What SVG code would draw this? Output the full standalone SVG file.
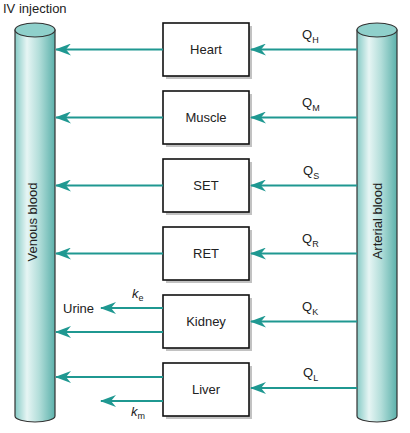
<svg xmlns="http://www.w3.org/2000/svg" width="410" height="433" viewBox="0 0 410 433">
<defs>
<linearGradient id="cyl" x1="0" y1="0" x2="1" y2="0">
<stop offset="0" stop-color="#86cbc6"/>
<stop offset="0.3" stop-color="#e6f5f4"/>
<stop offset="0.6" stop-color="#b3deda"/>
<stop offset="1" stop-color="#5cb1ab"/>
</linearGradient>
<marker id="ah" viewBox="0 0 16 12" refX="15" refY="6" markerWidth="16" markerHeight="12" markerUnits="userSpaceOnUse" orient="auto">
<path d="M0,0 L16,6 L0,12 L5,6 Z" fill="#1f9891"/>
</marker>
</defs>
<style>
text{font-family:"Liberation Sans","DejaVu Sans",sans-serif;font-size:13px;fill:#222}
.box{fill:#fff;stroke:#111;stroke-width:1.6}
.sh{fill:#c2c2c2}
.lbl{text-anchor:middle}
.cb{fill:url(#cyl);stroke:#333;stroke-width:1.2}
.ct{fill:#8fd0cb;stroke:#333;stroke-width:1.2}
.ar{stroke:#1f9891;stroke-width:2;fill:none;marker-end:url(#ah)}
.sub{font-size:9px}
.it{font-style:italic}
</style>
<text x="3" y="13">IV injection</text>
<g id="venous">
<path class="cb" d="M15,30 V416 A20,6 0 0 0 55,416 V30 Z"/>
<ellipse class="ct" cx="35" cy="30" rx="20" ry="7"/>
<text class="lbl" transform="translate(37,222) rotate(-90)">Venous blood</text>
</g>
<g id="arterial">
<path class="cb" d="M357,30 V416 A20,6 0 0 0 397,416 V30 Z"/>
<ellipse class="ct" cx="377" cy="30" rx="20" ry="7"/>
<text class="lbl" transform="translate(382,221) rotate(-90)">Arterial blood</text>
</g>
<g id="heart"><rect class="sh" x="166" y="26" width="86" height="53"/><rect class="box" x="163" y="23" width="86" height="53"/><text class="lbl" x="206" y="54">Heart</text></g>
<g id="muscle"><rect class="sh" x="166" y="94" width="86" height="53"/><rect class="box" x="163" y="91" width="86" height="53"/><text class="lbl" x="206" y="122">Muscle</text></g>
<g id="set"><rect class="sh" x="166" y="162" width="86" height="53"/><rect class="box" x="163" y="159" width="86" height="53"/><text class="lbl" x="206" y="190">SET</text></g>
<g id="ret"><rect class="sh" x="166" y="230" width="86" height="53"/><rect class="box" x="163" y="227" width="86" height="53"/><text class="lbl" x="206" y="258">RET</text></g>
<g id="kidney"><rect class="sh" x="166" y="298" width="86" height="53"/><rect class="box" x="163" y="295" width="86" height="53"/><text class="lbl" x="206" y="326">Kidney</text></g>
<g id="liver"><rect class="sh" x="166" y="366" width="86" height="53"/><rect class="box" x="163" y="363" width="86" height="53"/><text class="lbl" x="206" y="394">Liver</text></g>
<g id="connectors">
<line class="ar" x1="163" y1="49.5" x2="56" y2="49.5"/>
<line class="ar" x1="163" y1="117.5" x2="56" y2="117.5"/>
<line class="ar" x1="163" y1="185.5" x2="56" y2="185.5"/>
<line class="ar" x1="163" y1="253.5" x2="56" y2="253.5"/>
<line class="ar" x1="163" y1="332" x2="56" y2="332"/>
<line class="ar" x1="163" y1="377" x2="56" y2="377"/>
<line class="ar" x1="163" y1="308" x2="101" y2="308"/>
<line class="ar" x1="163" y1="401" x2="101" y2="401"/>
<line class="ar" x1="357" y1="49.5" x2="251" y2="49.5"/>
<line class="ar" x1="357" y1="117.5" x2="251" y2="117.5"/>
<line class="ar" x1="357" y1="185.5" x2="251" y2="185.5"/>
<line class="ar" x1="357" y1="253.5" x2="251" y2="253.5"/>
<line class="ar" x1="357" y1="321.5" x2="251" y2="321.5"/>
<line class="ar" x1="357" y1="388" x2="251" y2="388"/>
<text x="302" y="39">Q<tspan class="sub" dy="4">H</tspan></text>
<text x="302" y="107">Q<tspan class="sub" dy="4">M</tspan></text>
<text x="303" y="175">Q<tspan class="sub" dy="4">S</tspan></text>
<text x="302" y="243">Q<tspan class="sub" dy="4">R</tspan></text>
<text x="302" y="311">Q<tspan class="sub" dy="4">K</tspan></text>
<text x="303" y="377">Q<tspan class="sub" dy="4">L</tspan></text>
<text x="63" y="313">Urine</text>
<text x="132" y="298"><tspan class="it">k</tspan><tspan class="sub" dy="3">e</tspan></text>
<text x="131" y="416"><tspan class="it">k</tspan><tspan class="sub" dy="3">m</tspan></text>
</g>
</svg>
